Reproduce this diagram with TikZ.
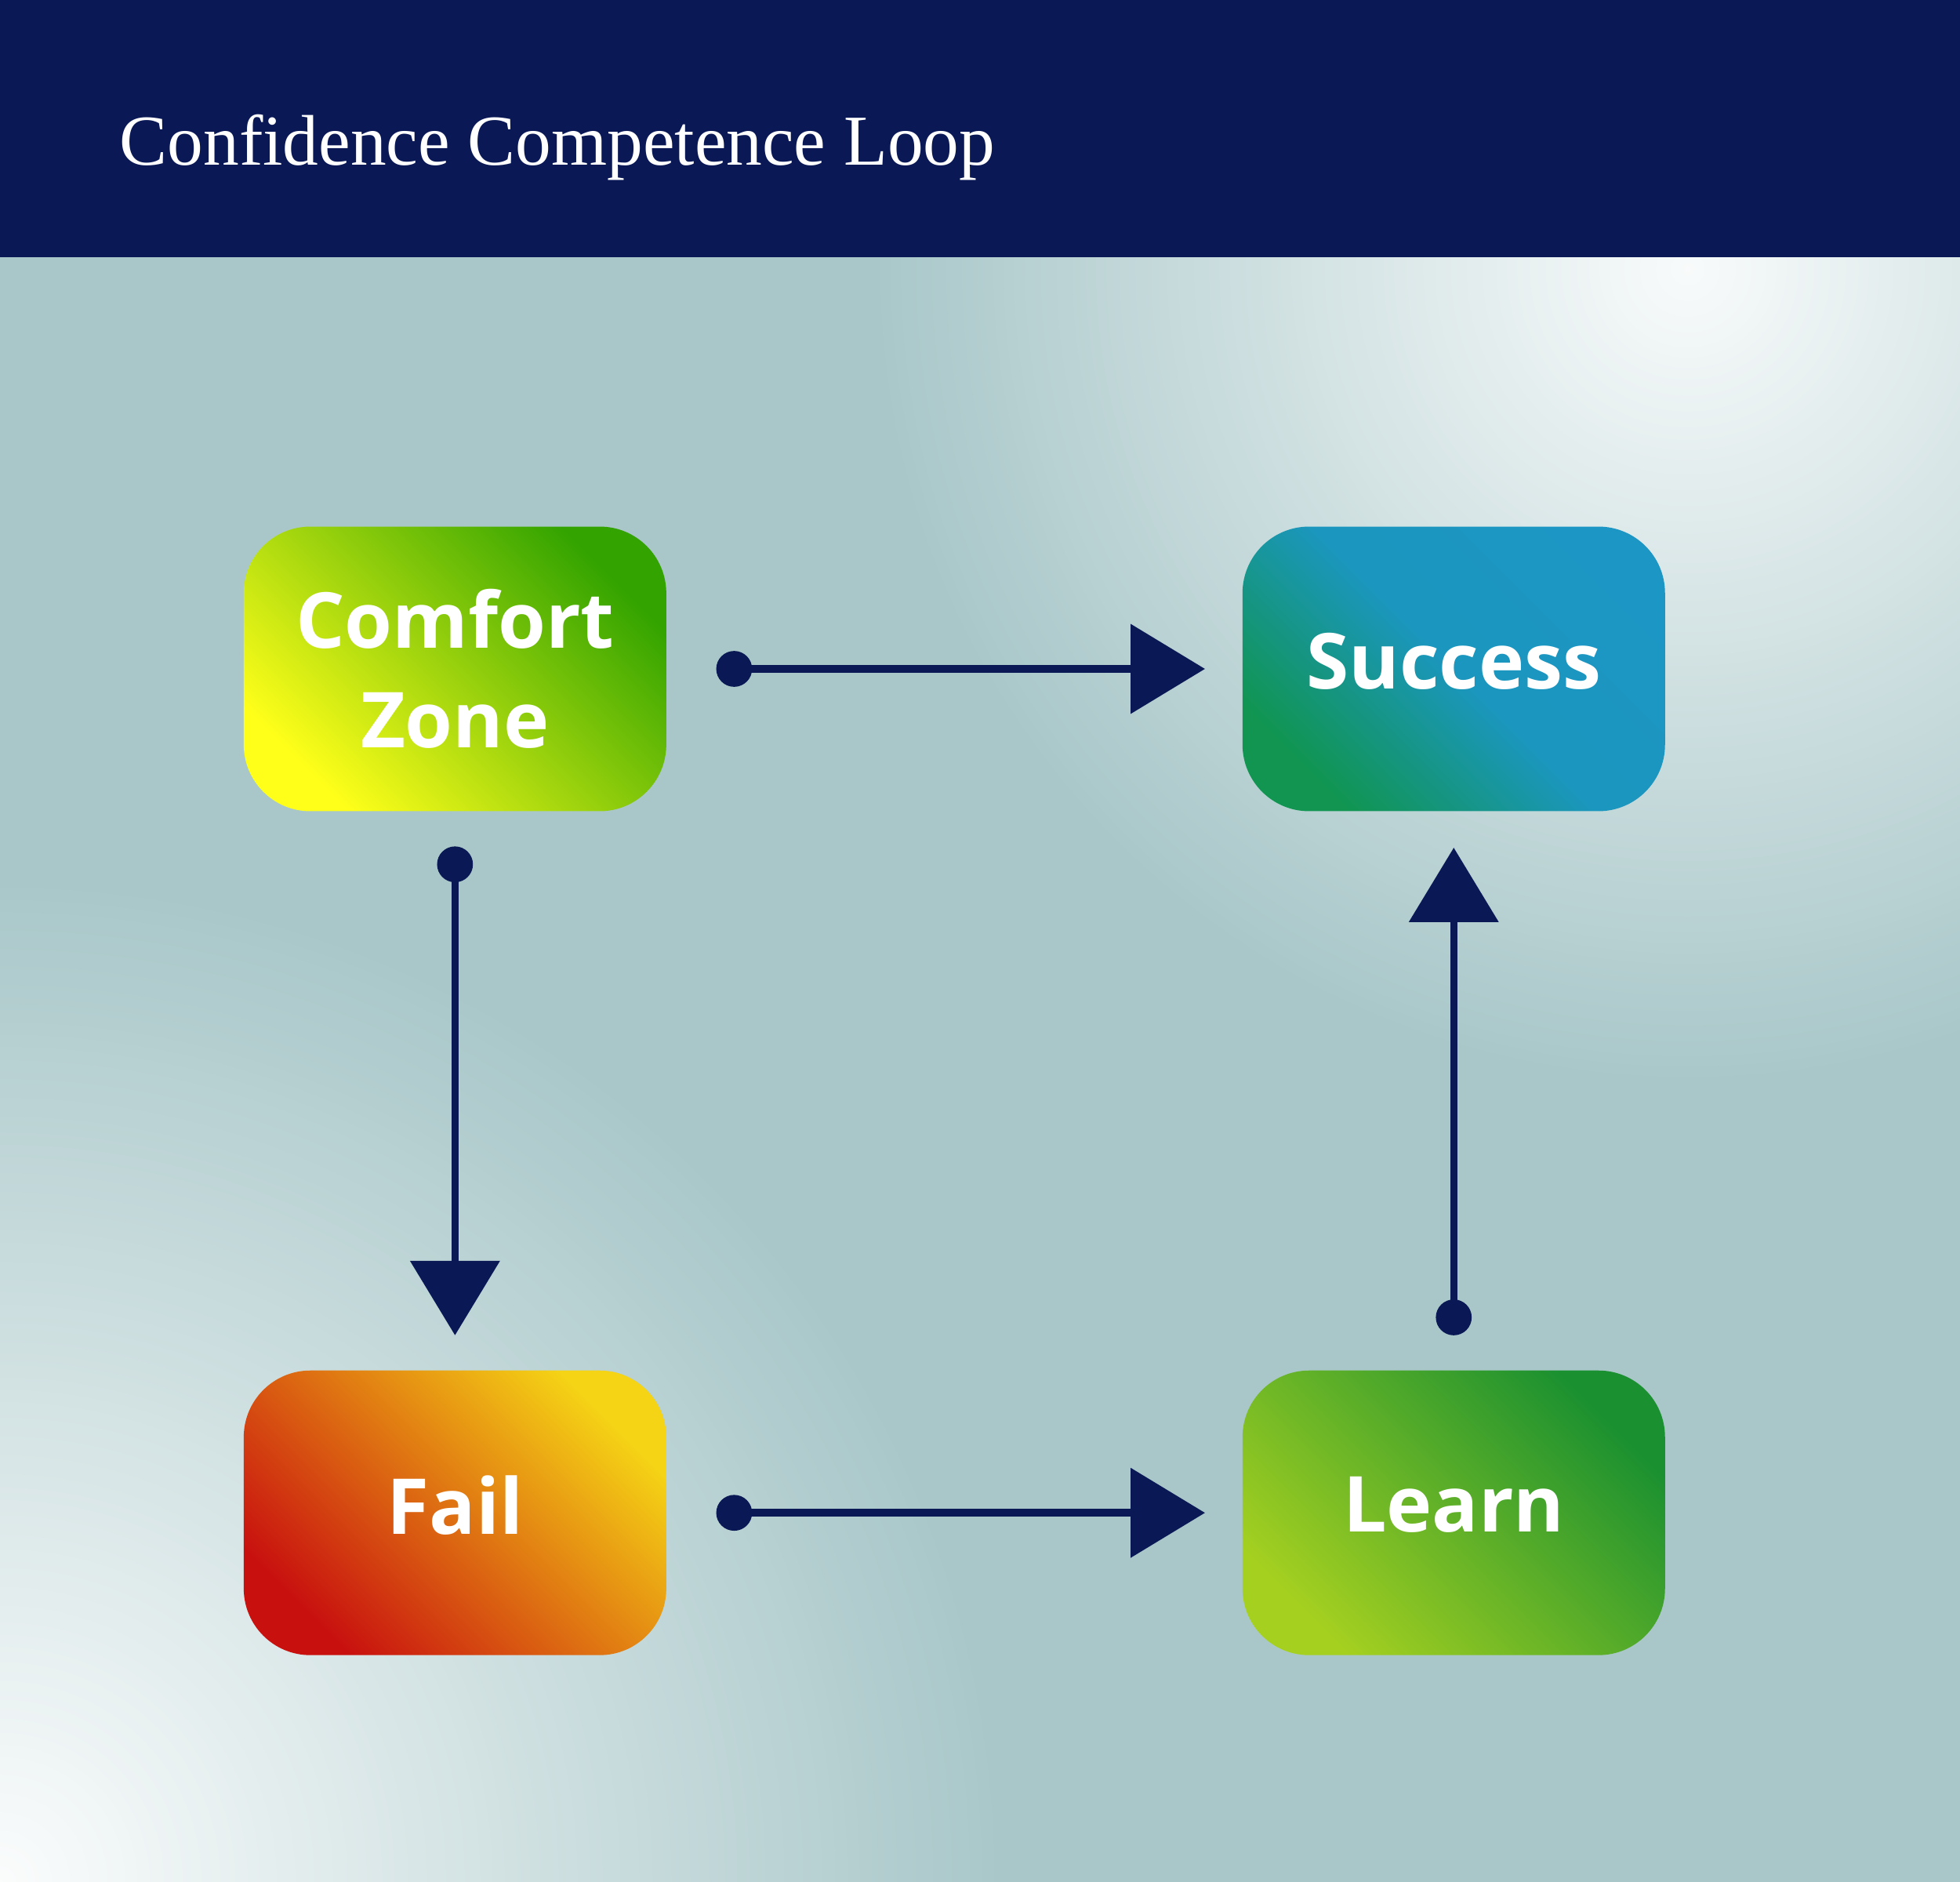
\documentclass[tikz,border=0pt]{standalone}
\usepackage{fontspec}
\setsansfont{Open Sans}
\setmainfont{Liberation Serif}
\usetikzlibrary{arrows.meta}
\definecolor{navy}{HTML}{0A1855}
\definecolor{bg}{HTML}{A9C7C9}
\tikzset{
 box/.style={rounded corners=0.85cm,minimum width=5.39cm,minimum height=3.63cm,inner sep=0pt,
   font=\sffamily\fontsize{28}{36}\selectfont\bfseries,text=white,align=center},
 conn/.style={navy,line width=2.7pt,{Circle[length=13pt]}-{Triangle[length=27pt,width=32pt]}}
}
\begin{document}
\begin{tikzpicture}[x=0.01594cm,y=-0.01594cm]
\useasboundingbox (0,0) rectangle (1568,1505);
\begin{scope}
\clip (0,206) rectangle (1568,1505);
\fill[bg] (0,206) rectangle (1568,1505);
\shade[inner color=white!92!bg,outer color=bg] (1350,215) circle (650);
\shade[inner color=white!95!bg,outer color=bg] (0,1505) circle (800);
\end{scope}
\fill[navy] (0,0) rectangle (1568,206);
\node[anchor=west,text=white,font=\fontsize{26}{30}\selectfont] (title) at (88,118) {Confidence Competence Loop};
\node[box,bottom color=yellow!90!white,top color=green!55!black!80!yellow,shading angle=-45] (cz) at (364,535) {Comfort\\Zone};
\node[box,bottom color={rgb,255:red,17;green,149;blue,80},top color={rgb,255:red,28;green,150;blue,196},middle color={rgb,255:red,27;green,150;blue,190},shading angle=-45] (su) at (1163,535) {\raisebox{6pt}{Success}};
\node[box,bottom color={rgb,255:red,200;green,16;blue,15},top color={rgb,255:red,245;green,212;blue,21},shading angle=-45] (fa) at (364,1210) {\raisebox{6pt}{Fail}};
\node[box,bottom color={rgb,255:red,165;green,208;blue,32},top color={rgb,255:red,26;green,144;blue,48},shading angle=-45] (le) at (1163,1210) {\raisebox{6pt}{Learn}};
\coordinate (a1) at (573,535); \coordinate (b1) at (964,535);
\coordinate (a2) at (364,677); \coordinate (b2) at (364,1068);
\coordinate (a3) at (573,1210); \coordinate (b3) at (964,1210);
\coordinate (a4) at (1163,1068); \coordinate (b4) at (1163,678);
\draw[conn] (a1) -- (b1);
\draw[conn] (a2) -- (b2);
\draw[conn] (a3) -- (b3);
\draw[conn] (a4) -- (b4);
\end{tikzpicture}
\end{document}
